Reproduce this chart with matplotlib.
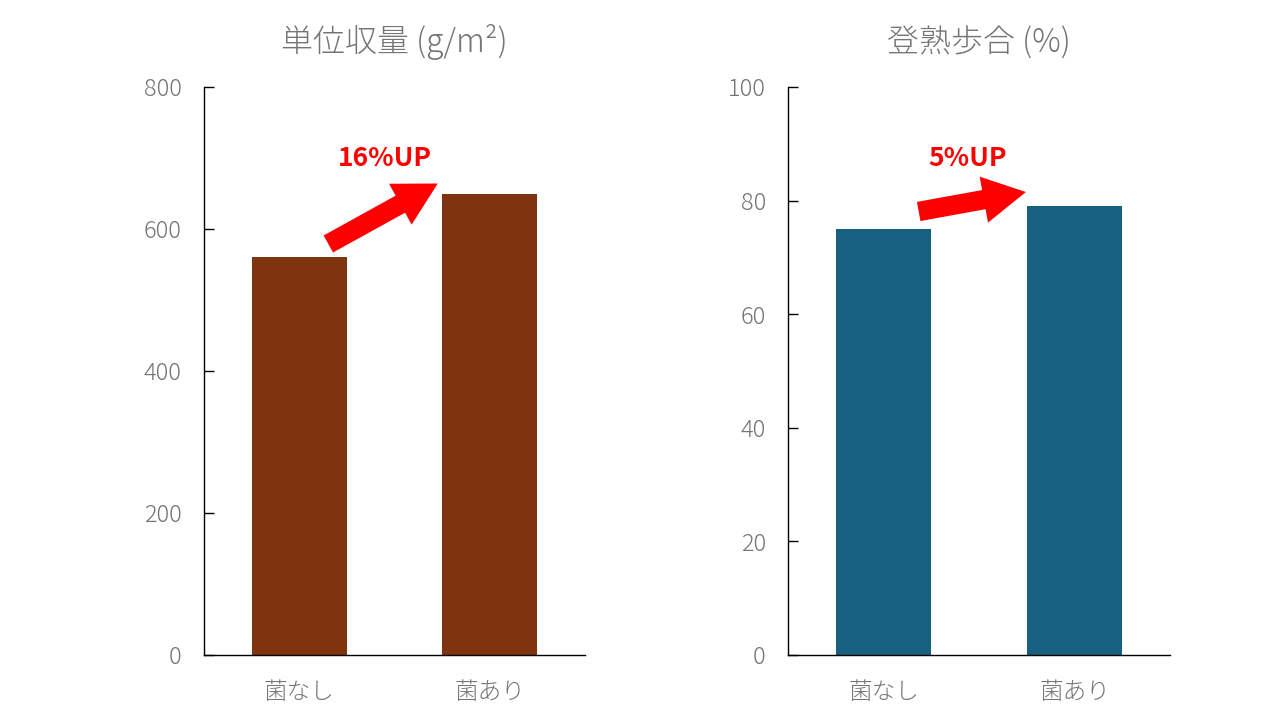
import matplotlib
matplotlib.use("Agg")
import matplotlib.pyplot as plt
from matplotlib.patches import FancyArrowPatch

plt.rcParams['font.family'] = ['Noto Sans CJK JP', 'DejaVu Sans']

categories = ["菌なし", "菌あり"]
yield_vals = [560, 650]
ripening_vals = [75, 79]
yield_ticks = [0, 200, 400, 600, 800]
ripening_ticks = [0, 20, 40, 60, 80, 100]
yield_label = "16%UP"
ripening_label = "5%UP"

gray = "#757575"
fig = plt.figure(figsize=(12.8, 7.2), dpi=100)
W, H = 1280, 720

def make_ax(x0, x1, y0, y1):
    return fig.add_axes([x0 / W, 1 - y1 / H, (x1 - x0) / W, (y1 - y0) / H])

ax1 = make_ax(204, 585, 87, 655)
ax2 = make_ax(788, 1170, 87, 655)

def style(ax, vals, ticks, color, title):
    x = list(range(len(categories)))
    ax.bar(x, vals, width=0.5, color=color)
    ax.set_xlim(-0.5, 1.5)
    ax.set_ylim(ticks[0], ticks[-1])
    ax.set_yticks(ticks)
    ax.set_xticks(x)
    ax.set_xticklabels(categories, fontweight="light")
    for lbl in ax.get_yticklabels():
        lbl.set_fontweight("light")
    for s in ["top", "right"]:
        ax.spines[s].set_visible(False)
    for s in ["left", "bottom"]:
        ax.spines[s].set_color("black")
        ax.spines[s].set_linewidth(1.0)
    ax.tick_params(axis="y", direction="in", length=7, width=1, colors="black",
                   labelcolor=gray, labelsize=17, pad=16)
    ax.tick_params(axis="x", length=0, labelcolor=gray, labelsize=17, pad=18)
    ax.set_title(title, fontsize=23, color=gray, pad=25, fontweight="light")

style(ax1, yield_vals, yield_ticks, "#7f3410", "単位収量 (g/m²)")
style(ax2, ripening_vals, ripening_ticks, "#17607f", "登熟歩合 (%)")

def arrow(ax, start, end, label, label_pos):
    p = FancyArrowPatch(start, end, transform=ax.transData,
                        arrowstyle="simple,head_length=2.2,head_width=2.4,tail_width=1.0",
                        mutation_scale=14, color="red", lw=0)
    ax.add_patch(p)
    ax.text(label_pos[0], label_pos[1], label, transform=ax.transAxes,
            color="red", fontsize=19, fontweight="bold", ha="center", va="center")

arrow(ax1, (0.14, 577), (0.74, 666), yield_label, (0.475, 0.875))
arrow(ax2, (0.17, 78.0), (0.76, 81.6), ripening_label, (0.47, 0.875))

fig.savefig("out.png", dpi=100)
